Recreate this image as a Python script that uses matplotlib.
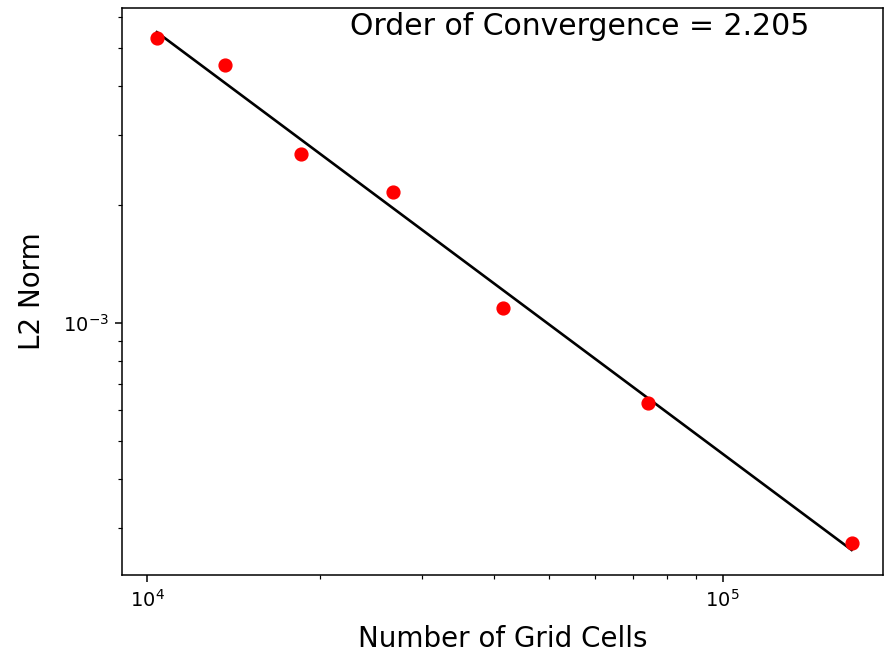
import numpy as np
import matplotlib.pyplot as plt

# grid sizes and L2 error norms
cells = [10400, 13670, 18530, 26780, 41600, 74350, 167600]
l2_norm = [5.31e-3, 4.53e-3, 2.69e-3, 2.155e-3, 1.092e-3, 6.26e-4, 2.755e-4]
order_label = 'Order of Convergence = 2.205'

x = np.array(cells, dtype=float)
y = np.array(l2_norm)

# least squares fit in log space
p = np.polyfit(np.log10(x), np.log10(y), 1)
x_fit = np.array([x[0], x[-1]])
y_fit = 10 ** np.polyval(p, np.log10(x_fit))

fig = plt.figure(figsize=(8.85, 6.52), dpi=100)
ax = fig.add_axes([0.1384, 0.1181, 0.8593, 0.8696])

ax.plot(x_fit, y_fit, color='black', lw=1.9, zorder=2)
ax.scatter(x, y, color='red', s=85, zorder=3)

ax.set_xscale('log')
ax.set_yscale('log')
ax.set_xlim(9065, 1.9e5)
ax.set_ylim(2.28e-4, 6.33e-3)

for s in ax.spines.values():
    s.set_linewidth(1.1)

ax.set_xlabel('Number of Grid Cells', fontsize=20, labelpad=10)
ax.set_ylabel('L2 Norm', fontsize=20, labelpad=12)
ax.tick_params(which='major', labelsize=14, length=5, width=1.1, pad=5)
ax.tick_params(which='minor', length=2.8, width=0.85)
ax.text(0.299, 0.993, order_label, transform=ax.transAxes, fontsize=21.5, va='top', ha='left')

plt.savefig('out.png', dpi=100)
